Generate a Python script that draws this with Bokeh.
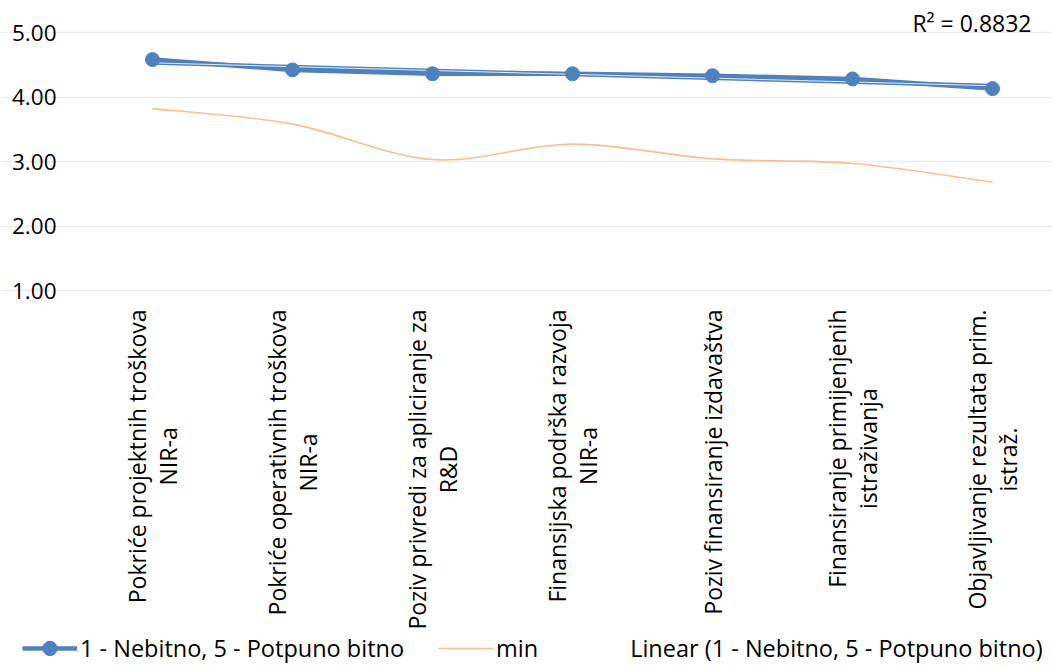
import numpy as np
from bokeh.plotting import figure
from bokeh.models import (ColumnDataSource, Range1d, FixedTicker, Label, Legend,
                          LegendItem, NumeralTickFormatter)
from bokeh.embed import file_html
from bokeh.resources import INLINE

# ---- data -------------------------------------------------------------
categories = [
    "Pokriće projektnih troškova\nNIR-a",
    "Pokriće operativnih troškova\nNIR-a",
    "Poziv privredi za apliciranje za\nR&D",
    "Finansijska podrška razvoja\nNIR-a",
    "Poziv finansiranje izdavaštva",
    "Finansiranje primijenjenih\nistraživanja",
    "Objavljivanje rezultata prim.\nistraž.",
]
importance = [4.58, 4.42, 4.36, 4.36, 4.33, 4.28, 4.13]
minimum = [3.82, 3.58, 3.03, 3.27, 3.04, 2.97, 2.68]
y_ticks = [1, 2, 3, 4, 5]

series_name = "1 - Nebitno, 5 - Potpuno bitno"
min_name = "min"
trend_name = "Linear (1 - Nebitno, 5 - Potpuno bitno)"
r2_text = "R² = 0.8832"

# ---- style / geometry ---------------------------------------------------
BLUE = "#4f81bd"
ORANGE = "#f9bf8f"
GRID = "#ededed"
FONT = "Open Sans"
FS = "23px"

W, H = 1052, 666
plot_left = 82                 # where the plotting area starts
band_px = 140                  # width of one category band
top_px, unit_px = 32, 64.5     # pixel row of the top tick, pixels per unit

n = len(categories)
xs = np.arange(n, dtype=float)

x_start = -0.5 - plot_left / band_px
x_end = x_start + W / band_px
y_top = y_ticks[-1] + top_px / unit_px
y_bot = y_ticks[-1] - (H - top_px) / unit_px

p = figure(width=W, height=H, output_backend="svg", toolbar_location=None,
           x_range=Range1d(x_start, x_end), y_range=Range1d(y_bot, y_top),
           x_axis_location=None, min_border_left=0, min_border_right=0,
           min_border_top=0, min_border_bottom=0)
p.outline_line_color = None
p.xgrid.visible = False

# value axis: labels pulled into the canvas so the frame spans the full width
ax = p.yaxis[0]
ax.ticker = FixedTicker(ticks=y_ticks)
ax.formatter = NumeralTickFormatter(format="0.00")
ax.axis_line_color = None
ax.major_tick_line_color = None
ax.minor_tick_line_color = None
ax.major_tick_in = 0
ax.major_tick_out = 0
ax.major_label_standoff = -56
ax.major_label_text_font = FONT
ax.major_label_text_font_size = "22.5px"
ax.major_label_text_color = "black"
p.ygrid.grid_line_color = GRID
p.ygrid.grid_line_width = 1.5
p.ygrid.bounds = (-0.5, x_end)

# ---- smoothed "min" series (cubic Bezier segments) ---------------------
ym = np.array(minimum, dtype=float)
i0 = np.arange(n - 1)
prev = np.maximum(i0 - 1, 0)
nxt = np.minimum(i0 + 2, n - 1)
bez = ColumnDataSource(dict(
    x0=xs[i0], y0=ym[i0], x1=xs[i0 + 1], y1=ym[i0 + 1],
    cx0=xs[i0] + (xs[i0 + 1] - xs[prev]) / 6, cy0=ym[i0] + (ym[i0 + 1] - ym[prev]) / 6,
    cx1=xs[i0 + 1] - (xs[nxt] - xs[i0]) / 6, cy1=ym[i0 + 1] - (ym[nxt] - ym[i0]) / 6,
))
min_r = p.bezier(x0="x0", y0="y0", x1="x1", y1="y1", cx0="cx0", cy0="cy0",
                 cx1="cx1", cy1="cy1", source=bez, line_color=ORANGE, line_width=1.6)

# ---- main series and its linear trend ---------------------------------
src = ColumnDataSource(dict(x=xs, y=importance))
line_r = p.line("x", "y", source=src, line_color=BLUE, line_width=4.5)

slope, intercept = np.polyfit(xs, importance, 1)
tx = np.array([xs[0], xs[-1]])
trend = ColumnDataSource(dict(x=tx, y=slope * tx + intercept))
p.line("x", "y", source=trend, line_color=BLUE, line_width=4.0)
trend_r = p.line("x", "y", source=trend, line_color="white", line_width=1.0, line_alpha=0.85)

dot_r = p.scatter("x", "y", source=src, size=14, marker="circle",
                  fill_color=BLUE, line_color=BLUE)

legend = Legend(items=[
    LegendItem(label=series_name, renderers=[line_r, dot_r]),
    LegendItem(label=min_name, renderers=[min_r]),
    LegendItem(label=trend_name, renderers=[trend_r]),
], orientation="horizontal", location=(22, 0), padding=0, margin=0,
    spacing=34, label_standoff=3, glyph_width=55, glyph_height=36,
    label_height=36, border_line_color=None, background_fill_alpha=0,
    label_text_font=FONT, label_text_font_size="23.5px", label_text_color="black")
p.add_layout(legend)

# ---- rotated category labels -------------------------------------------
for i, name in enumerate(categories):
    p.add_layout(Label(x=i, y=y_ticks[0], y_offset=-19, text=name, angle=np.pi / 2,
                       anchor="center_right", text_align="center",
                       text_font=FONT, text_font_size=FS, text_color="black",
                       text_line_height=0.97))

# ---- R² annotation ------------------------------------------------------
p.add_layout(Label(x=n - 1, y=y_ticks[-1], x_offset=39, y_offset=10, text=r2_text,
                   text_align="right", text_baseline="middle",
                   text_font=FONT, text_font_size=FS, text_color="black"))

open("out.html", "w").write(file_html(p, INLINE))
